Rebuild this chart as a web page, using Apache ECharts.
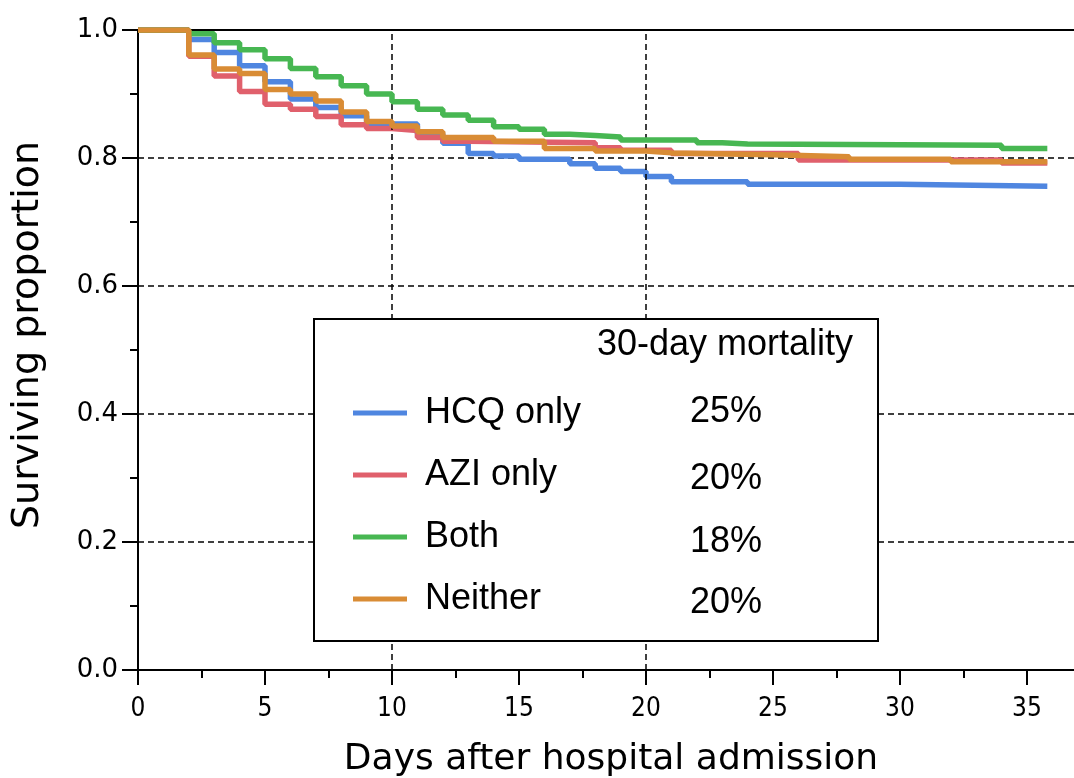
<!DOCTYPE html>
<html>
<head>
<meta charset="utf-8">
<script src="https://cdn.jsdelivr.net/npm/echarts@6/dist/echarts.min.js"></script>
<style>
html,body{margin:0;padding:0;background:#fff;overflow:hidden;width:1074px;height:778px;}
#chart{width:1154px;height:778px;}
</style>
</head>
<body>
<div id="chart"></div>
<script>
// ---- data ----
const seriesNames = ['HCQ only', 'AZI only', 'Both', 'Neither'];
const mortality = ['25%', '20%', '18%', '20%'];
const legendTitle = '30-day mortality';
const xTitle = 'Days after hospital admission';
const yTitle = 'Surviving proportion';

const hcqDays = [0, 2, 3, 4, 5, 6, 7, 8, 9, 11, 12, 13, 14, 15, 17, 18, 19, 20, 21, 24, 30, 35.8];
const hcqVals = [1, 0.985, 0.965, 0.944, 0.919, 0.892, 0.879, 0.866, 0.853, 0.838, 0.823, 0.807, 0.803, 0.798, 0.791, 0.784, 0.779, 0.771, 0.763, 0.759, 0.756, 0.756];

const aziDays = [0, 2, 3, 4, 5, 6, 7, 8, 9, 10, 11, 12, 13, 18, 19, 21, 26, 34, 35.8];
const aziVals = [1, 0.959, 0.928, 0.904, 0.884, 0.876, 0.865, 0.852, 0.846, 0.843, 0.832, 0.826, 0.824, 0.816, 0.812, 0.807, 0.797, 0.792, 0.792];

const bothDays = [0, 2, 3, 4, 5, 6, 7, 8, 9, 10, 11, 12, 13, 14, 15, 16, 17, 18, 19, 22, 23, 24, 34, 35.8];
const bothVals = [1, 0.994, 0.980, 0.969, 0.955, 0.940, 0.927, 0.913, 0.900, 0.888, 0.876, 0.867, 0.859, 0.849, 0.845, 0.837, 0.835, 0.833, 0.828, 0.824, 0.822, 0.820, 0.815, 0.815];

const neitherDays = [0, 2, 3, 4, 5, 6, 7, 8, 9, 10, 11, 12, 14, 16, 18, 20, 21, 25, 28, 32, 35.8];
const neitherVals = [1, 0.961, 0.939, 0.932, 0.907, 0.900, 0.889, 0.872, 0.857, 0.850, 0.841, 0.832, 0.826, 0.815, 0.811, 0.808, 0.805, 0.802, 0.798, 0.794, 0.794];

const refDays = [10, 20];
const colors = ['#4f86e0', '#e0606c', '#47b752', '#d98c35'];

function pairs(d, v) { return d.map((x, i) => [x, v[i]]); }
const allData = [pairs(hcqDays, hcqVals), pairs(aziDays, aziVals), pairs(bothDays, bothVals), pairs(neitherDays, neitherVals)];

const chart = echarts.init(document.getElementById('chart'), null, {renderer: 'canvas'});

const series = allData.map((d, i) => ({
  name: seriesNames[i],
  type: 'line',
  step: 'end',
  data: d,
  symbol: 'none',
  lineStyle: {width: 5.5, color: colors[i]},
  itemStyle: {color: colors[i]},
  z: 3 + i
}));

series.push({
  type: 'line',
  data: [],
  silent: true,
  markLine: {
    silent: true,
    symbol: ['none', 'none'],
    label: {show: false},
    animation: false,
    data: [
      ...refDays.map(d => ({xAxis: d, lineStyle: {type: [6, 4], color: '#000', width: 1.5}})),
      {yAxis: 1, lineStyle: {type: 'solid', color: '#000', width: 2}}
    ]
  },
  z: 2
});

const legendLeft = 313, legendTop = 318, legendW = 564, legendH = 322;
const pctTops = [394, 461, 524, 585];

chart.setOption({
  animation: false,
  color: colors,
  grid: {left: 138, top: 30, right: 0, bottom: 108, containLabel: false, outerBoundsMode: 'none'},
  xAxis: {
    type: 'value', min: 0, max: 40, interval: 5,
    name: xTitle, nameLocation: 'middle', nameGap: 72,
    nameTextStyle: {fontFamily: 'DejaVu Sans', fontSize: 36, color: '#000', padding: [0, 70, 0, 0]},
    axisLine: {lineStyle: {color: '#000', width: 2}},
    axisTick: {length: 15, lineStyle: {color: '#000', width: 2}},
    minorTick: {show: true, splitNumber: 2, length: 8, lineStyle: {color: '#000', width: 2}},
    axisLabel: {fontFamily: 'DejaVu Sans Condensed', fontSize: 26, color: '#000', margin: 26,
      formatter: v => (v % 5 === 0 && v <= 35) ? String(v) : ''},
    splitLine: {show: false}
  },
  yAxis: {
    type: 'value', min: 0, max: 1, interval: 0.2,
    name: yTitle, nameLocation: 'middle', nameGap: 91, nameRotate: 90,
    nameTextStyle: {fontFamily: 'DejaVu Sans', fontSize: 38, color: '#000', padding: [0, 0, 0, 30]},
    axisLine: {show: true, lineStyle: {color: '#000', width: 2}},
    axisTick: {show: true, length: 16, lineStyle: {color: '#000', width: 2}},
    minorTick: {show: true, splitNumber: 2, length: 8, lineStyle: {color: '#000', width: 2}},
    axisLabel: {fontFamily: 'DejaVu Sans', fontSize: 26, color: '#000', margin: 20,
      formatter: v => v.toFixed(1)},
    splitLine: {show: true, lineStyle: {type: [6, 4], color: '#000', width: 1.5}}
  },
  legend: {
    orient: 'vertical',
    left: 353, top: 395,
    padding: 0,
    icon: 'rect',
    itemWidth: 54, itemHeight: 5,
    itemGap: 26,
    data: seriesNames,
    selectedMode: false,
    textStyle: {fontFamily: 'Liberation Sans', fontSize: 36, color: '#000', lineHeight: 36, padding: [0, 0, 0, 13]},
    z: 20
  },
  graphic: [
    {type: 'rect', left: legendLeft, top: legendTop, z: 10,
      shape: {width: legendW, height: legendH},
      style: {fill: '#fff', stroke: '#000', lineWidth: 2}},
    {type: 'text', left: 597, top: 327, z: 11,
      style: {text: legendTitle, fontFamily: 'Liberation Sans', fontSize: 36, fill: '#000'}},
    ...mortality.map((m, i) => ({
      type: 'text', left: 690, top: pctTops[i], z: 11,
      style: {text: m, fontFamily: 'Liberation Sans', fontSize: 36, fill: '#000'}
    }))
  ],
  series: series
});
</script>
</body>
</html>
